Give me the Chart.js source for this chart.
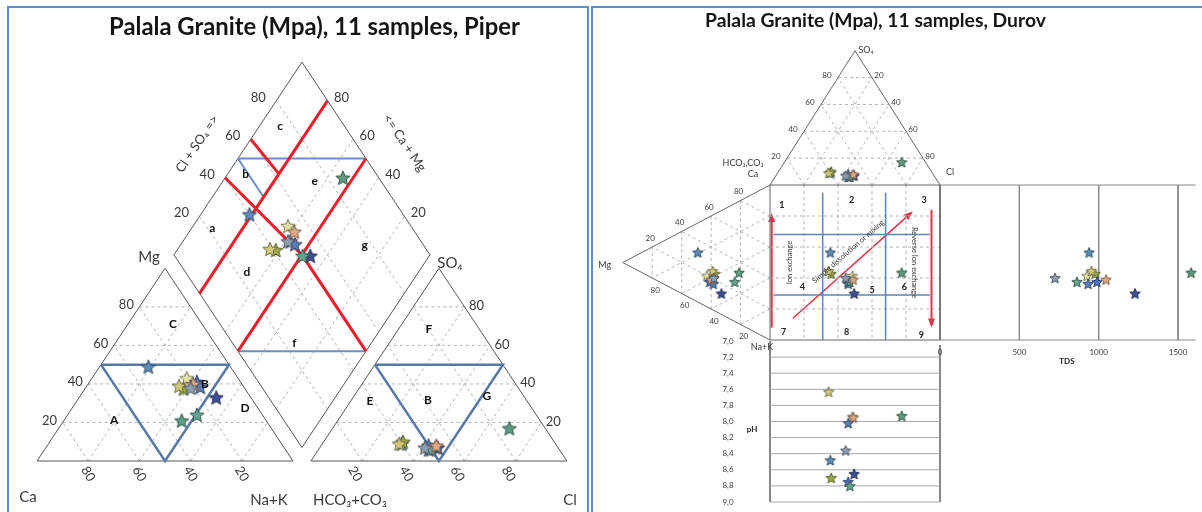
<!DOCTYPE html>
<html>
<head>
<meta charset="utf-8">
<title>Palala Granite - Piper and Durov</title>
<script src="https://cdn.jsdelivr.net/npm/chart.js@4.4.1/dist/chart.umd.min.js"></script>
<style>
  html, body { margin: 0; padding: 0; background: #fff; }
  body { position: relative; width: 1202px; height: 512px; overflow: hidden; font-family: Lato, sans-serif; }
  .panel { position: absolute; box-sizing: border-box; border: 2px solid #5b8ed4; }
  #panelPiper { left: 7px; top: 6px; width: 582px; height: 530px; }
  #panelDurov { left: 591px; top: 6px; width: 620px; height: 530px; }
  canvas { position: absolute; }
  #piper { left: 9px; top: 8px; }
  #durov { left: 593px; top: 8px; }
</style>
</head>
<body>
<div class="panel" id="panelPiper"></div>
<div class="panel" id="panelDurov"></div>
<canvas id="piper" width="578" height="504"></canvas>
<canvas id="durov" width="609" height="504"></canvas>
<script>
// ---- data (meq %) ----
const samples = ['S1', 'S2', 'S3', 'S4', 'S5', 'S6', 'S7', 'S8', 'S9', 'S10', 'S11'];
const caPct   = [32, 20, 24, 25, 17, 17, 13.5, 25.5, 33, 19, 21];
const mgPct   = [49, 43, 37.5, 39, 41, 38.5, 33, 24, 21, 40, 38];
const naKPct  = [19, 37, 38.5, 36, 42, 44.5, 53.5, 50.5, 46, 41, 41];
const hco3Pct = [60, 48, 59, 61, 51, 50, 47, 50, 14, 47, 52];
const so4Pct  = [9, 7, 10, 9, 6, 8, 7, 6, 17, 8, 7];
const clPct   = [31, 45, 31, 30, 43, 42, 46, 44, 69, 45, 41];
const tdsMgL  = [940, 926, 977, 955, 989, 933, 1229, 863, 1582, 1046, 725];
const phValues = [8.48, 7.94, 8.70, 7.63, 8.75, 8.02, 8.65, 8.80, 7.93, 7.95, 8.36];

const ticks = [20, 40, 60, 80];
const phTicks = [7.0, 7.2, 7.4, 7.6, 7.8, 8.0, 8.2, 8.4, 8.6, 8.8, 9.0];
const tdsTicks = [0, 500, 1000, 1500];

const sampleColors = ['#5b8db8', '#e3e0a6', '#9daa4a', '#cfc87a', '#4e6fc4', '#5a7fb5',
                      '#414e92', '#62a392', '#5e9c80', '#dda883', '#8e9eae'];

// ---- geometry ----
const H = Math.sqrt(3) / 2;
const GAP = 7;
const cat = (ca, mg, na) => ({ x: na + mg / 2, y: mg * H });
const ani = (hco3, so4, cl) => ({ x: 100 + GAP + cl + so4 / 2, y: so4 * H });
// u = (Ca+Mg)/100, v = (Cl+SO4)/100
const dia = (u, v) => ({ x: 100 + GAP / 2 + 50 * (v - u), y: GAP * H + 100 * H * (u + v) });
// Durov: square 0..100 both ways, y grows downwards
const dTop = (hco3, so4, cl) => ({ x: cl + so4 / 2, y: -so4 * H });
const dLeft = (ca, mg, na) => ({ x: -mg * H, y: na + mg / 2 });

const BREAK = { x: null, y: null };
function lines(segs, color, width, dash, order, extra) {
  const data = [];
  segs.forEach((s, i) => { if (i) data.push(BREAK); data.push(...s); });
  return Object.assign({ data, showLine: true, borderColor: color, borderWidth: width,
    borderDash: dash || [], pointRadius: 0, pointHoverRadius: 0, order }, extra || {});
}

function shade(hex, f) {
  const n = parseInt(hex.slice(1), 16);
  const c = [n >> 16, (n >> 8) & 255, n & 255].map(v => Math.round(v * f));
  return `rgb(${c.join(',')})`;
}
function starImage(color, r) {
  const c = document.createElement('canvas');
  const s = Math.ceil(r * 2 + 3);
  c.width = c.height = s;
  const g = c.getContext('2d');
  g.translate(s / 2, s / 2 + r * 0.1);
  g.beginPath();
  for (let i = 0; i < 10; i++) {
    const rad = i % 2 ? r * 0.45 : r;
    const a = -Math.PI / 2 + i * Math.PI / 5;
    g.lineTo(rad * Math.cos(a), rad * Math.sin(a));
  }
  g.closePath();
  g.fillStyle = color;
  g.fill();
  g.lineWidth = 1;
  g.strokeStyle = shade(color, 0.55);
  g.stroke();
  return c;
}
const bigStars = sampleColors.map(c => starImage(c, 7.5));
const smallStars = sampleColors.map(c => starImage(c, 5.5));

function stars(data, imgs, extra) {
  return Object.assign({ data, pointStyle: imgs, pointRadius: 6, pointHoverRadius: 6, showLine: false, order: 0 }, extra || {});
}

function textLayer(items) {
  return {
    id: 'textLayer',
    afterDatasetsDraw(chart) {
      const ctx = chart.ctx;
      items.forEach(t => {
        let px, py;
        if (t.abs) {
          [px, py] = t.abs;
        } else {
          px = chart.scales[t.xAxis || 'x'].getPixelForValue(t.p.x);
          py = chart.scales[t.yAxis || 'y'].getPixelForValue(t.p.y);
        }
        px += t.dx || 0;
        py += t.dy || 0;
        ctx.save();
        ctx.translate(px, py);
        if (t.rot) ctx.rotate(t.rot * Math.PI / 180);
        let font = t.font;
        if (t.fit) {
          ctx.font = font.replace('{s}', 20);
          font = font.replace('{s}', (20 * t.fit / ctx.measureText(t.text).width).toFixed(2));
        }
        ctx.font = font;
        ctx.fillStyle = t.color || '#3a3a3a';
        ctx.textAlign = t.align || 'center';
        ctx.textBaseline = t.baseline || 'middle';
        ctx.fillText(t.text, 0, 0);
        ctx.restore();
      });
    }
  };
}

// map page pixels to scale ranges (canvas rect + pixel of data origin + px per unit)
function rangeX(cv, x0, perUnit) {
  return { min: (cv.left - x0) / perUnit, max: (cv.left + cv.width - x0) / perUnit };
}
function rangeYUp(cv, y0, perUnit) {
  return { min: (y0 - cv.top - cv.height) / perUnit, max: (y0 - cv.top) / perUnit };
}
function rangeYDown(cv, y0, perUnit, base) {
  return { min: base + (cv.top - y0) / perUnit, max: base + (cv.top + cv.height - y0) / perUnit };
}
const hidden = { type: 'linear', display: false, bounds: 'data' };
const common = {
  responsive: false, devicePixelRatio: 1, animation: false, events: [],
  layout: { padding: 0, autoPadding: false },
  plugins: { legend: { display: false }, tooltip: { enabled: false } }
};

// ================= Piper =================
const piperCv = { left: 9, top: 8, width: 578, height: 504 };

const piperGrid = [];
ticks.forEach(t => {
  piperGrid.push([cat(100 - t, t, 0), cat(0, t, 100 - t)]);
  piperGrid.push([cat(t, 0, 100 - t), cat(t, 100 - t, 0)]);
  piperGrid.push([cat(100 - t, 0, t), cat(0, 100 - t, t)]);
  piperGrid.push([ani(100 - t, t, 0), ani(0, t, 100 - t)]);
  piperGrid.push([ani(t, 0, 100 - t), ani(t, 100 - t, 0)]);
  piperGrid.push([ani(100 - t, 0, t), ani(0, 100 - t, t)]);
  piperGrid.push([dia(t / 100, 0), dia(t / 100, 1)]);
  piperGrid.push([dia(0, t / 100), dia(1, t / 100)]);
});
const piperFrame = [
  [cat(100, 0, 0), cat(0, 100, 0), cat(0, 0, 100), cat(100, 0, 0)],
  [ani(100, 0, 0), ani(0, 100, 0), ani(0, 0, 100), ani(100, 0, 0)],
  [dia(0, 0), dia(1, 0), dia(1, 1), dia(0, 1), dia(0, 0)]
];
const piperBlue = [
  [cat(50, 50, 0), cat(0, 50, 50), cat(50, 0, 50), cat(50, 50, 0)],
  [ani(50, 50, 0), ani(0, 50, 50), ani(50, 0, 50), ani(50, 50, 0)]
];
const diamondBlue = [[[1, 0.5], [0.5, 1]], [[1, 0.5], [0.8, 0.5]], [[0.5, 0], [0, 0.5]]];
const diamondRed = [[[0.8, 0], [0.8, 1]], [[0.5, 0], [0.5, 1]], [[1, 0.4], [0.5, 0.5], [0, 0.5]], [[1, 0.6], [0.8, 0.62]]];
const uv = seg => seg.map(([u, v]) => dia(u, v));

const cationPts = samples.map((s, i) => cat(caPct[i], mgPct[i], naKPct[i]));
const anionPts = samples.map((s, i) => ani(hco3Pct[i], so4Pct[i], clPct[i]));
const diamondPts = samples.map((s, i) => dia((caPct[i] + mgPct[i]) / 100, (so4Pct[i] + clPct[i]) / 100));

const tickFont = '13px Lato';
const piperLabels = [
  { abs: [305.5, 27], text: 'Palala Granite (Mpa), 11 samples, Piper', font: 'bold {s}px Lato', fit: 411, color: '#151515', baseline: 'alphabetic' }
];
ticks.forEach(t => {
  const s = String(t);
  piperLabels.push({ p: cat(100 - t, t, 0), dx: -13, dy: -2, text: s, font: tickFont });
  piperLabels.push({ p: cat(t, 0, 100 - t), dx: 0, dy: 13, rot: 60, text: s, font: tickFont });
  piperLabels.push({ p: ani(0, t, 100 - t), dx: 12, dy: -1, text: s, font: tickFont });
  piperLabels.push({ p: ani(100 - t, 0, t), dx: -7, dy: 13, rot: 60, text: s, font: tickFont });
  piperLabels.push({ p: dia(1, t / 100), dx: -18, dy: -3, text: s, font: tickFont });
  piperLabels.push({ p: dia(t / 100, 1), dx: 14, dy: -3, text: s, font: tickFont });
});
const cornerFont = '15px Lato';
piperLabels.push(
  { p: cat(0, 100, 0), dx: -16, dy: -11, text: 'Mg', font: cornerFont },
  { p: cat(100, 0, 0), dx: -9, dy: 36, text: 'Ca', font: cornerFont },
  { p: cat(0, 0, 100), dx: -24, dy: 39, text: 'Na+K', font: cornerFont },
  { p: ani(0, 100, 0), dx: 11, dy: -5, text: 'SO\u2084', font: cornerFont },
  { p: ani(100, 0, 0), dx: 39, dy: 39, text: 'HCO\u2083+CO\u2083', font: cornerFont },
  { p: ani(0, 0, 100), dx: 3, dy: 39, text: 'Cl', font: cornerFont },
  { p: dia(1, 0.55), dx: -47, dy: -5, rot: -56, text: 'Cl + SO\u2084 =>', font: tickFont },
  { p: dia(0.55, 1), dx: 45, dy: -6, rot: 56, text: '<= Ca + Mg', font: tickFont }
);
const letterFont = 'bold 12px Lato';
[['C', 11.5, 70.8, 17.7], ['A', 59.2, 21.4, 19.4], ['B', 14.4, 40, 45.6], ['D', 4.9, 27.6, 67.5]]
  .forEach(([l, a, b, c]) => piperLabels.push({ p: cat(a, b, c), text: l, font: letterFont, color: '#111' }));
[['F', 19.8, 68.2, 12], ['E', 61.4, 31.25, 7.4], ['B', 38.4, 31.8, 29.8], ['G', 14.3, 33.9, 51.8]]
  .forEach(([l, a, b, c]) => piperLabels.push({ p: ani(a, b, c), text: l, font: letterFont, color: '#111' }));
[['a', .92, .22], ['b', .93, .49], ['c', .92, .75], ['d', .67, .24], ['e', .64, .74], ['f', .30, .24], ['g', .28, .77]]
  .forEach(([l, u, v]) => piperLabels.push({ p: dia(u, v), text: l, font: letterFont, color: '#111' }));

new Chart(document.getElementById('piper'), {
  type: 'scatter',
  data: {
    datasets: [
      lines(piperGrid, '#b4b4b4', 1, [3, 3], 5),
      lines(piperFrame, '#555', 1, [], 4),
      lines(piperBlue, '#5878a6', 2.5, [], 3),
      lines(diamondBlue.map(uv), '#6a8fc8', 2, [], 3),
      lines(diamondRed.map(uv), '#e8202a', 3, [], 2),
      stars(cationPts, bigStars),
      stars(anionPts, bigStars),
      stars(diamondPts, bigStars)
    ]
  },
  options: Object.assign({}, common, {
    scales: {
      x: Object.assign({}, hidden, rangeX(piperCv, 37, 2.56)),
      y: Object.assign({}, hidden, rangeYUp(piperCv, 461, 2.225))
    }
  }),
  plugins: [textLayer(piperLabels)]
});

// ================= Durov =================
const durovCv = { left: 593, top: 8, width: 609, height: 504 };
const TDS_END = 1610;

const durovGrid = [];
ticks.forEach(t => {
  durovGrid.push([{ x: t, y: 0 }, { x: t, y: 100 }]);
  durovGrid.push([{ x: 0, y: t }, { x: 100, y: t }]);
  durovGrid.push([dTop(100 - t, t, 0), dTop(0, t, 100 - t)]);
  durovGrid.push([dTop(100 - t, 0, t), dTop(0, 100 - t, t)]);
  durovGrid.push([dTop(t, 0, 100 - t), dTop(t, 100 - t, 0)]);
  durovGrid.push([dLeft(100 - t, t, 0), dLeft(0, t, 100 - t)]);
  durovGrid.push([dLeft(t, 0, 100 - t), dLeft(t, 100 - t, 0)]);
  durovGrid.push([dLeft(100 - t, 0, t), dLeft(0, 100 - t, t)]);
});
const durovFrame = [
  [{ x: 0, y: 0 }, { x: 100, y: 0 }, { x: 100, y: 100 }, { x: 0, y: 100 }, { x: 0, y: 0 }],
  [dTop(100, 0, 0), dTop(0, 100, 0), dTop(0, 0, 100)],
  [dLeft(100, 0, 0), dLeft(0, 100, 0), dLeft(0, 0, 100)]
];
const durovFieldX = [31, 68];
const durovFieldY = [32, 71];
const durovBlue = [
  ...durovFieldX.map(x => [{ x, y: 5 }, { x, y: 100 }]),
  ...durovFieldY.map(y => [{ x: 2, y }, { x: 94, y }])
];
const tdsFrame = [
  [{ x: 0, y: 0 }, { x: TDS_END, y: 0 }],
  [{ x: 0, y: 100 }, { x: TDS_END, y: 100 }],
  ...tdsTicks.slice(1).map(t => [{ x: t, y: 0 }, { x: t, y: 100 }])
];
const phGrid = phTicks.slice(1).map(p => [{ x: 0, y: p }, { x: 100, y: p }]);
const phFrame = [[{ x: 0, y: 7 }, { x: 0, y: 9 }], [{ x: 100, y: 7.05 }, { x: 100, y: 9 }]];

const durovArrows = [
  { from: [1, 92], to: [1, 18], w: 2 },
  { from: [95, 16], to: [95, 92], w: 2 },
  { from: [13.5, 86], to: [84, 17], w: 1.5 }
];

const topPts = samples.map((s, i) => dTop(hco3Pct[i], so4Pct[i], clPct[i]));
const leftPts = samples.map((s, i) => dLeft(caPct[i], mgPct[i], naKPct[i]));
const squarePts = samples.map((s, i) => ({ x: topPts[i].x, y: leftPts[i].y }));
const tdsPts = samples.map((s, i) => ({ x: tdsMgL[i], y: leftPts[i].y }));
const phPts = samples.map((s, i) => ({ x: topPts[i].x, y: phValues[i] }));

const smallFont = '8px Lato';
const durovLabels = [
  { abs: [282.5, 19], text: 'Palala Granite (Mpa), 11 samples, Durov', font: 'bold {s}px Lato', fit: 341, color: '#151515', baseline: 'alphabetic' }
];
ticks.forEach(t => {
  const s = String(t);
  durovLabels.push({ p: dTop(100 - t, t, 0), dx: -11, dy: -2, text: s, font: smallFont });
  durovLabels.push({ p: dTop(0, 100 - t, t), dx: 7, dy: -2, text: s, font: smallFont });
  durovLabels.push({ p: dLeft(t, 100 - t, 0), dx: -2, dy: -9, text: s, font: smallFont });
  durovLabels.push({ p: dLeft(0, t, 100 - t), dx: 3, dy: 12, text: s, font: smallFont });
});
const dCorner = '9px Lato';
durovLabels.push(
  { p: dLeft(0, 100, 0), dx: -18, dy: 3, text: 'Mg', font: dCorner },
  { p: dLeft(0, 0, 100), dx: -8, dy: 7, text: 'Na+K', font: dCorner },
  { p: dLeft(100, 0, 0), dx: -17, dy: -11, text: 'Ca', font: dCorner },
  { p: dTop(100, 0, 0), dx: -27, dy: -22, text: 'HCO\u2083,CO\u2083', font: dCorner },
  { p: dTop(0, 100, 0), dx: 11, dy: -1, text: 'SO\u2084', font: dCorner },
  { p: dTop(0, 0, 100), dx: 10, dy: -13, text: 'Cl', font: dCorner },
  { p: { x: 11.8, y: 50 }, rot: -90, text: 'Ion exchange', font: '7.5px Lato' },
  { p: { x: 46, y: 43 }, rot: -41, text: 'Simple dissolution or mixing', font: '7.5px Lato' },
  { p: { x: 84.7, y: 50 }, rot: 90, text: 'Reverse Ion exchange', font: '7.5px Lato' }
);
[['1', 7, 13], ['2', 48, 10], ['3', 90.6, 10], ['4', 19, 66], ['5', 60, 68], ['6', 79, 66], ['7', 8, 95], ['8', 45, 95], ['9', 89, 97]]
  .forEach(([n, x, y]) => durovLabels.push({ p: { x, y }, text: n, font: 'bold 9px Lato', color: '#222' }));
tdsTicks.forEach(t => durovLabels.push({ xAxis: 'xT', p: { x: t, y: 100 }, dy: 12, text: String(t), font: smallFont }));
durovLabels.push({ xAxis: 'xT', p: { x: 800, y: 100 }, dy: 21, text: 'TDS', font: 'bold 8px Lato', color: '#222' });
phTicks.forEach(p => durovLabels.push({ yAxis: 'yP', p: { x: 0, y: p }, dx: -42, text: p.toFixed(1).replace('.', ','), font: smallFont }));
durovLabels.push({ yAxis: 'yP', p: { x: 0, y: 8.1 }, dx: -18, text: 'pH', font: 'bold 8px Lato', color: '#222' });

const arrowLayer = {
  id: 'arrowLayer',
  beforeDatasetsDraw(chart) {
    const { ctx, scales: { x, y } } = chart;
    ctx.save();
    ctx.strokeStyle = ctx.fillStyle = '#e0344a';
    durovArrows.forEach(a => {
      const x1 = x.getPixelForValue(a.from[0]), y1 = y.getPixelForValue(a.from[1]);
      const x2 = x.getPixelForValue(a.to[0]), y2 = y.getPixelForValue(a.to[1]);
      const ang = Math.atan2(y2 - y1, x2 - x1), c = Math.cos(ang), s = Math.sin(ang);
      ctx.lineWidth = a.w;
      ctx.beginPath();
      ctx.moveTo(x1, y1);
      ctx.lineTo(x2 - 6 * c, y2 - 6 * s);
      ctx.stroke();
      ctx.beginPath();
      ctx.moveTo(x2, y2);
      ctx.lineTo(x2 - 9 * c + 3.5 * s, y2 - 9 * s - 3.5 * c);
      ctx.lineTo(x2 - 9 * c - 3.5 * s, y2 - 9 * s + 3.5 * c);
      ctx.closePath();
      ctx.fill();
    });
    ctx.restore();
  }
};

new Chart(document.getElementById('durov'), {
  type: 'scatter',
  data: {
    datasets: [
      lines(durovGrid, '#b4b4b4', 1, [3, 3], 5),
      lines(phGrid, '#a8a8a8', 1, [], 4, { yAxisID: 'yP' }),
      lines(phFrame, '#777', 1, [], 4, { yAxisID: 'yP' }),
      lines(tdsFrame, '#888', 1, [], 4, { xAxisID: 'xT' }),
      lines(durovFrame, '#666', 1, [], 3),
      lines(durovBlue, '#5a86b8', 1.5, [], 2),
      stars(topPts, smallStars),
      stars(leftPts, smallStars),
      stars(squarePts, smallStars),
      stars(tdsPts, smallStars, { xAxisID: 'xT' }),
      stars(phPts, smallStars, { yAxisID: 'yP' })
    ]
  },
  options: Object.assign({}, common, {
    scales: {
      x: Object.assign({}, hidden, rangeX(durovCv, 770, 1.70)),
      y: Object.assign({}, hidden, { reverse: true }, rangeYDown(durovCv, 185, 1.55, 0)),
      xT: Object.assign({}, hidden, { axis: 'x' }, rangeX(durovCv, 940, 0.1587)),
      yP: Object.assign({}, hidden, { axis: 'y', reverse: true }, rangeYDown(durovCv, 341, 80.5, 7))
    }
  }),
  plugins: [arrowLayer, textLayer(durovLabels)]
});
</script>
</body>
</html>
